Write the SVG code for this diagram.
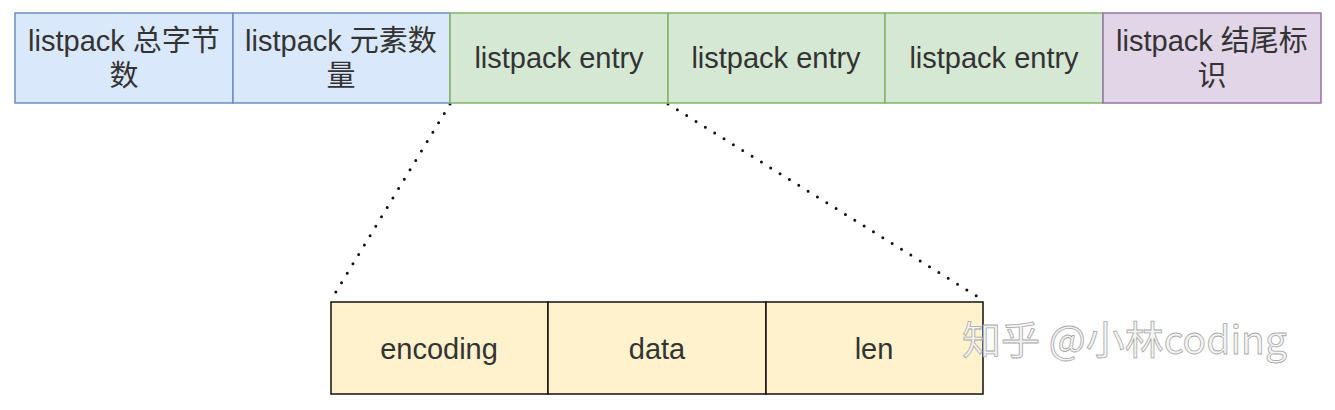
<svg xmlns="http://www.w3.org/2000/svg" width="1335" height="410" viewBox="0 0 1335 410">
<style>
.t{font-family:"Liberation Sans","Noto Sans CJK SC",sans-serif;font-size:29px;fill:#333;text-anchor:middle}
.blue{fill:#dae8fc;stroke:#6c8ebf;stroke-width:1.5}
.green{fill:#d5e8d4;stroke:#82b366;stroke-width:1.5}
.purple{fill:#e1d5e7;stroke:#9673a6;stroke-width:1.5}
.yellow{fill:#fff2cc;stroke:#111;stroke-width:1.5}
.dot{fill:none;stroke:#111;stroke-width:3;stroke-linecap:round;stroke-dasharray:0 11}
.wm{font-family:"Noto Sans CJK SC","Liberation Sans",sans-serif;font-size:39px;fill:#f4f4f4;stroke:#a8a8a8;stroke-width:0.8}
</style>
<rect width="1335" height="410" fill="#fff"/>
<g id="connectors">
<line class="dot" x1="450" y1="104" x2="331" y2="300"/>
<line class="dot" x1="668" y1="104" x2="983" y2="300"/>
</g>
<g id="n1"><rect class="blue" x="15" y="13" width="218" height="90"/><text class="t" x="124" y="51">listpack 总字节</text><text class="t" x="124" y="86">数</text></g>
<g id="n2"><rect class="blue" x="233" y="13" width="217" height="90"/><text class="t" x="341" y="51">listpack 元素数</text><text class="t" x="341" y="86">量</text></g>
<g id="n3"><rect class="green" x="450" y="13" width="218" height="90"/><text class="t" x="559" y="68">listpack entry</text></g>
<g id="n4"><rect class="green" x="668" y="13" width="217" height="90"/><text class="t" x="776" y="68">listpack entry</text></g>
<g id="n5"><rect class="green" x="885" y="13" width="218" height="90"/><text class="t" x="994" y="68">listpack entry</text></g>
<g id="n6"><rect class="purple" x="1103" y="13" width="218" height="90"/><text class="t" x="1212" y="51">listpack 结尾标</text><text class="t" x="1212" y="86">识</text></g>
<g id="n7"><rect class="yellow" x="331" y="302" width="217" height="92"/><text class="t" x="439" y="359">encoding</text></g>
<g id="n8"><rect class="yellow" x="548" y="302" width="218" height="92"/><text class="t" x="657" y="359">data</text></g>
<g id="n9"><rect class="yellow" x="766" y="302" width="217" height="92"/><text class="t" x="874" y="359">len</text></g>
<text class="wm" x="962" y="354">知乎 @小林coding</text>
</svg>
